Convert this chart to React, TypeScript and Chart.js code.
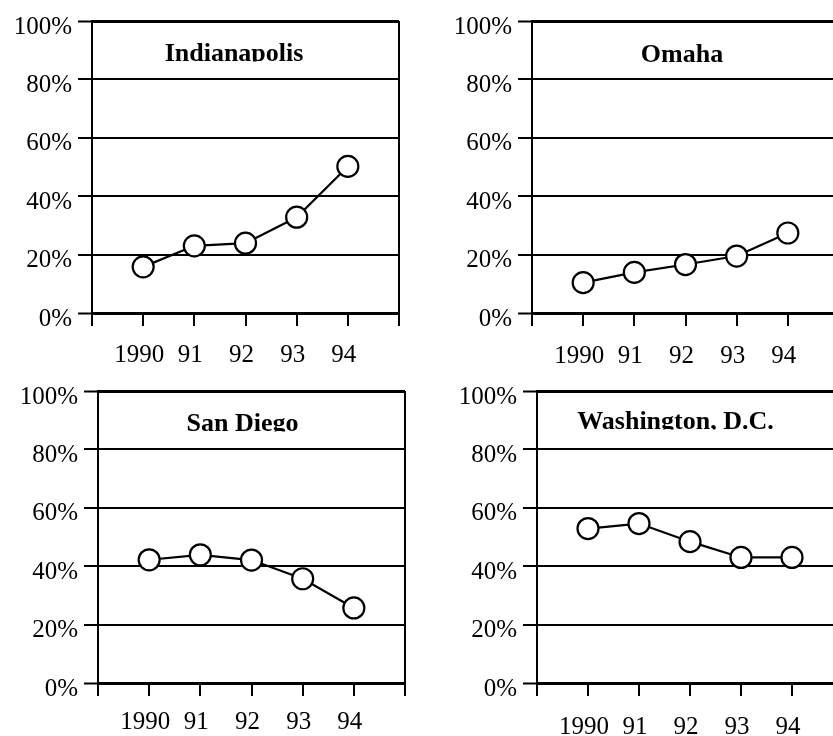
import React, { useEffect, useRef } from 'react';
import { Chart, registerables } from 'chart.js';

Chart.register(...registerables);

// ---- data ----
const YEARS = ['1990', '91', '92', '93', '94'];
const Y_TICKS = [0, 20, 40, 60, 80, 100];
const INDIANAPOLIS = [15.8, 23.0, 23.9, 32.8, 50.2];
const OMAHA = [10.4, 13.9, 16.6, 19.5, 27.4];
const SAN_DIEGO = [42.2, 43.9, 42.1, 35.7, 25.7];
const WASHINGTON = [52.9, 54.6, 48.4, 43.0, 43.0];
const TITLES = ['Indianapolis', 'Omaha', 'San Diego', 'Washington, D.C.'];

const SERIF = "'Liberation Serif', 'Times New Roman', Times, serif";

// layout of each panel (canvas position, title placement, x label padding)
const LAYOUT = [
  { left: 0, top: 0, dx: 142, dy: 40, xPad: 14 },
  { left: 440, top: 0, dx: 150, dy: 40.5, xPad: 15 },
  { left: 6, top: 370, dx: 144.5, dy: 40, xPad: 11 },
  { left: 445, top: 370, dx: 138.5, dy: 38, xPad: 16 },
];
const SERIES = [INDIANAPOLIS, OMAHA, SAN_DIEGO, WASHINGTON];

const W = 414;
const H = 373;
const Y_AXIS_W = 92;
const X_AXIS_H = 60;
const PAD_TOP = 19;
const PAD_RIGHT = 15;

type PanelProps = {
  title: string;
  values: number[];
  left: number;
  top: number;
  dx: number;
  dy: number;
  xPad: number;
};

function Panel({ title, values, left, top, dx, dy, xPad }: PanelProps) {
  const ref = useRef<HTMLCanvasElement | null>(null);

  useEffect(() => {
    if (!ref.current) return;
    const decor = {
      id: 'panelDecor',
      afterDraw(chart: any) {
        const { ctx, chartArea: ca } = chart;
        ctx.save();
        // right border
        ctx.strokeStyle = '#000';
        ctx.lineWidth = 2;
        ctx.beginPath();
        ctx.moveTo(Math.round(ca.right), ca.top);
        ctx.lineTo(Math.round(ca.right), ca.bottom);
        ctx.stroke();
        // clipped title
        ctx.beginPath();
        ctx.rect(ca.left, ca.top, ca.right - ca.left, dy + 0.5);
        ctx.clip();
        ctx.font = `bold 26px ${SERIF}`;
        ctx.fillStyle = '#000';
        ctx.textAlign = 'center';
        ctx.textBaseline = 'alphabetic';
        ctx.fillText(title, ca.left + dx, ca.top + dy);
        ctx.restore();
      },
    };

    const chart = new Chart(ref.current, {
      type: 'line',
      data: {
        datasets: [
          {
            data: values.map((v, i) => ({ x: i + 1, y: v })),
            borderColor: '#000',
            borderWidth: 2.2,
            pointRadius: 10.5,
            pointHoverRadius: 10.5,
            pointBackgroundColor: '#fff',
            pointBorderColor: '#000',
            pointBorderWidth: 2.2,
            tension: 0,
            clip: false as any,
          },
        ],
      },
      options: {
        responsive: false,
        animation: false,
        events: [],
        layout: { padding: { top: PAD_TOP, right: PAD_RIGHT, left: 0, bottom: 0 } },
        plugins: {
          legend: { display: false },
          tooltip: { enabled: false },
          title: { display: false },
        },
        scales: {
          x: {
            type: 'linear',
            min: 0,
            max: YEARS.length + 1,
            afterFit: (s: any) => {
              s.height = X_AXIS_H;
            },
            border: { display: true, color: '#000', width: 3 },
            grid: {
              drawOnChartArea: false,
              drawTicks: true,
              tickLength: 13,
              color: '#000',
              lineWidth: 2,
            },
            ticks: {
              stepSize: 1,
              autoSkip: false,
              maxRotation: 0,
              padding: xPad,
              labelOffset: -4,
              color: '#000',
              font: { family: SERIF, size: 25 },
              callback: (v: any) => YEARS[Number(v) - 1] ?? '',
            },
          },
          y: {
            min: 0,
            max: 100,
            afterFit: (s: any) => {
              s.width = Y_AXIS_W;
            },
            afterBuildTicks: (s: any) => {
              s.ticks = Y_TICKS.map((v) => ({ value: v }));
            },
            border: { display: true, color: '#000', width: 2 },
            grid: {
              color: '#000',
              lineWidth: (c: any) =>
                c.tick && (c.tick.value === 100 || c.tick.value === 0) ? 3 : 2,
              tickLength: 14,
              tickWidth: 2,
            },
            ticks: {
              padding: 6,
              labelOffset: 6,
              color: '#000',
              font: { family: SERIF, size: 25 },
              callback: (v: any) => `${v}%`,
            },
          },
        },
      },
      plugins: [decor],
    } as any);

    return () => chart.destroy();
  }, [title, values, dx, dy, xPad]);

  return (
    <canvas
      ref={ref}
      width={W}
      height={H}
      style={{ position: 'absolute', left, top, width: W, height: H }}
    />
  );
}

export default function App() {
  return (
    <div
      style={{
        position: 'absolute',
        left: 0,
        top: 0,
        width: 833,
        height: 736,
        overflow: 'hidden',
        background: '#fff',
      }}
    >
      {LAYOUT.map((l, i) => (
        <Panel key={TITLES[i]} title={TITLES[i]} values={SERIES[i]} {...l} />
      ))}
    </div>
  );
}
